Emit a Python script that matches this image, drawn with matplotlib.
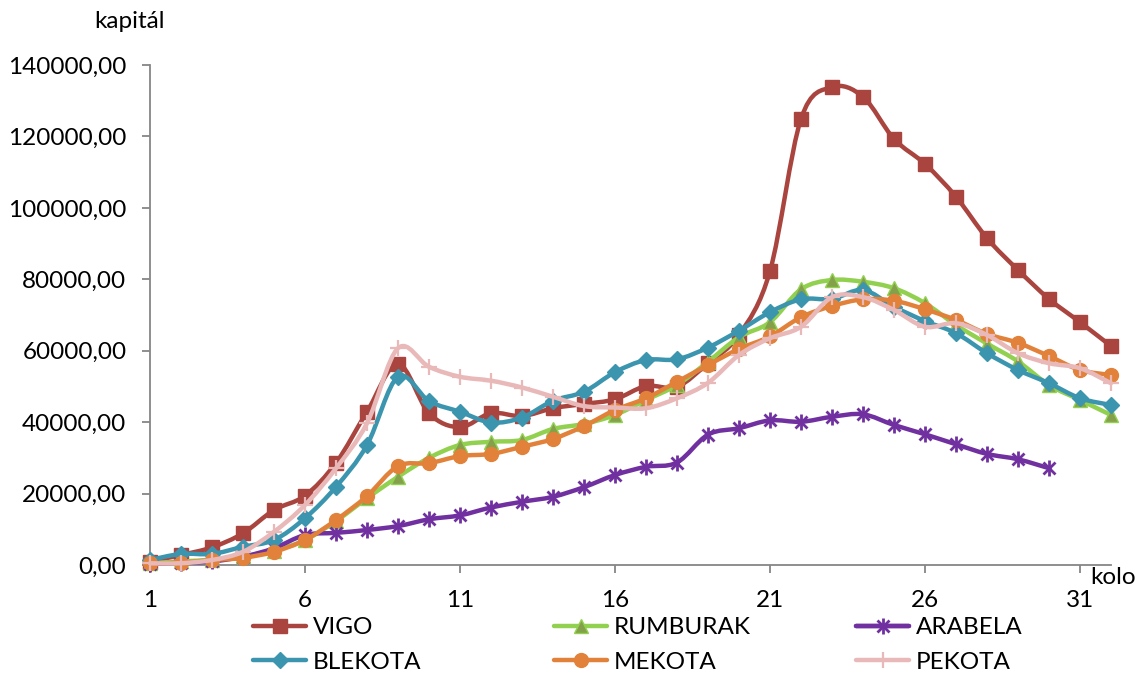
import matplotlib
matplotlib.use("Agg")
import matplotlib.pyplot as plt
import numpy as np
from matplotlib.lines import Line2D
from matplotlib.path import Path
from matplotlib.patches import PathPatch
from matplotlib.ticker import FuncFormatter

plt.rcParams["font.family"] = ["Lato", "DejaVu Sans"]

# data (kapital per round / kolo)
VIGO = [930, 2800, 4950, 8870, 15400, 19400, 28600, 42900, 56300, 42500,
        38600, 42500, 41700, 43900, 45100, 46400, 50100, 49900, 56500, 64400,
        82300, 124900, 133800, 131100, 119300, 112300, 103100, 91500, 82600,
        74500, 68000, 61300]
RUMBURAK = [500, 1000, 1500, 2500, 4000, 7000, 12300, 18700, 24700, 30000,
            33600, 34500, 35000, 38100, 39500, 42000, 46200, 50400, 56900,
            63800, 68000, 77200, 79800, 79300, 77500, 73300, 67200, 62000,
            57000, 50400, 46200, 42000]
ARABELA = [300, 600, 1000, 2300, 4700, 8400, 9000, 9800, 10900, 12800,
           13900, 16100, 17700, 19100, 21800, 25200, 27500, 28700, 36500,
           38300, 40500, 40100, 41500, 42200, 39200, 36600, 33800, 31100,
           29600, 27100]
BLEKOTA = [1400, 3100, 3100, 5100, 7000, 13100, 21900, 33600, 52700, 45900,
           42900, 39900, 41300, 46000, 48500, 54000, 57400, 57600, 60900,
           65600, 70800, 74400, 74500, 77000, 72300, 68300, 64900, 59300,
           54600, 50900, 46700, 44800]
MEKOTA = [470, 650, 1400, 2000, 3700, 7000, 12600, 19300, 27700, 28500,
          30500, 31100, 33100, 35300, 38900, 43400, 46700, 51300, 56000,
          60500, 64000, 69400, 72500, 74400, 74000, 71600, 68600, 64700,
          62200, 58500, 54600, 53200]
PEKOTA = [470, 500, 1400, 3700, 9300, 16800, 27100, 39700, 60700, 55500,
          52700, 51600, 49700, 47100, 44500, 44100, 43900, 46700, 51000,
          58800, 63500, 66700, 75000, 75000, 71400, 66700, 67700, 64400,
          59300, 56500, 55100, 50900]
X_TICKS = [1, 6, 11, 16, 21, 26, 31]
Y_TICKS = [0, 20000, 40000, 60000, 80000, 100000, 120000, 140000]

AXIS_C = "#868686"
FS = 17.5


def smooth_path(x, y):
    # Excel-like smoothed line: cubic Bezier through the data points
    pts = np.column_stack([x, y]).astype(float)
    n = len(pts)
    verts = [pts[0]]
    codes = [Path.MOVETO]
    for i in range(n - 1):
        p0 = pts[i - 1] if i > 0 else pts[i]
        p1, p2 = pts[i], pts[i + 1]
        p3 = pts[i + 2] if i + 2 < n else pts[i + 1]
        verts += [p1 + (p2 - p0) / 6, p2 - (p3 - p1) / 6, p2]
        codes += [Path.CURVE4] * 3
    return Path(verts, codes)


# name, values, line colour, marker specs [(marker, size, face, edge, mew)]
SERIES = [
    ("VIGO", VIGO, "#A9443F", [("s", 9.5, "#A9443F", "#A9443F", 1)]),
    ("RUMBURAK", RUMBURAK, "#92D050", [("^", 10, "#84A04A", "#92D050", 1)]),
    ("ARABELA", ARABELA, "#7030A0", [("x", 8, "#7030A0", "#7030A0", 2),
                                     ("|", 11, "#7030A0", "#7030A0", 2)]),
    ("BLEKOTA", BLEKOTA, "#3C95AE", [("D", 8.5, "#3C95AE", "#3C95AE", 1)]),
    ("MEKOTA", MEKOTA, "#E2823A", [("o", 10, "#E2823A", "#E2823A", 1)]),
    ("PEKOTA", PEKOTA, "#E8B9B8", [("+", 12, "#E8B9B8", "#E8B9B8", 1.6)]),
]

fig = plt.figure(figsize=(11.4, 6.77), dpi=100)
ax = fig.add_axes([150 / 1140, 1 - 565 / 677, 961 / 1140, 500 / 677])

handles = {}
for z, (name, vals, col, marks) in enumerate(SERIES):
    xs = np.arange(1, len(vals) + 1)
    ax.add_patch(PathPatch(smooth_path(xs, vals), fill=False, edgecolor=col,
                           lw=3.2, capstyle="round", joinstyle="round",
                           clip_on=False, zorder=2 + z))
    hs = []
    for mk, ms, fc, ec, mew in marks:
        ax.plot(xs, vals, ls="none", marker=mk, ms=ms, mfc=fc, mec=ec, mew=mew,
                clip_on=False, zorder=2 + z)
        hs.append(Line2D([], [], color=col, lw=3.2, marker=mk, ms=ms, mfc=fc,
                         mec=ec, mew=mew, solid_capstyle="round"))
    handles[name] = tuple(hs) if len(hs) > 1 else hs[0]

ax.set_xlim(1, 32)
ax.set_ylim(0, 140000)
ax.set_xticks(X_TICKS)
ax.set_yticks(Y_TICKS)
ax.yaxis.set_major_formatter(FuncFormatter(lambda v, p: f"{v:.2f}".replace(".", ",")))
ax.spines[["top", "right"]].set_visible(False)
for s in ("left", "bottom"):
    ax.spines[s].set_color(AXIS_C)
    ax.spines[s].set_linewidth(1.3)
ax.tick_params(axis="both", direction="out", length=6, width=1.3, color=AXIS_C,
               labelsize=FS, labelcolor="black")
ax.tick_params(axis="x", pad=12)
ax.tick_params(axis="y", pad=11)

fig.text(129 / 1140, 1 - 22 / 677, "kapitál", fontsize=FS, ha="center", va="center")
fig.text(1090 / 1140, 1 - 577 / 677, "kolo", fontsize=FS, ha="left", va="center")

cols = [(253, ["VIGO", "BLEKOTA"]), (554, ["RUMBURAK", "MEKOTA"]),
        (856, ["ARABELA", "PEKOTA"])]
for xpx, names in cols:
    fig.legend([handles[n] for n in names], names, loc="center left",
               bbox_to_anchor=(xpx / 1140, 1 - 645 / 677), frameon=False,
               fontsize=FS, borderpad=0, borderaxespad=0, handlelength=2.2,
               handletextpad=0.25, labelspacing=0.55)

fig.savefig("out.png", dpi=100)
